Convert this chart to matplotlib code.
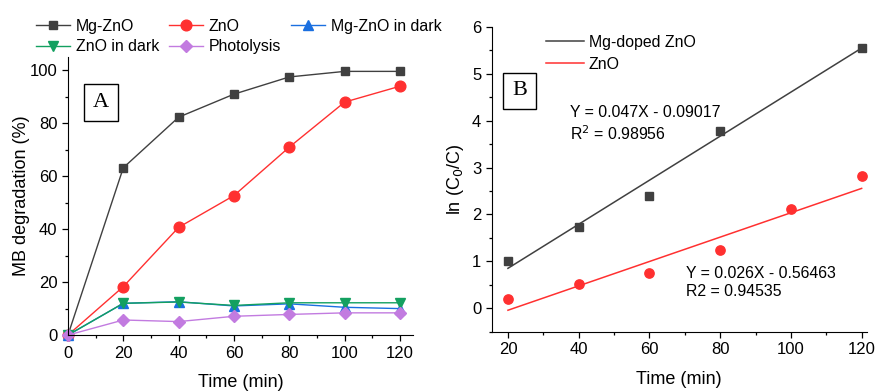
import numpy as np
import matplotlib.pyplot as plt
from matplotlib.ticker import MultipleLocator

plt.rcParams['font.family'] = ['Liberation Sans', 'DejaVu Sans']

# panel A: degradation (%)
time = [0, 20, 40, 60, 80, 100, 120]
mg_zno = [0, 63.2, 82.3, 91.0, 97.5, 99.6, 99.6]
zno = [0, 18.3, 40.7, 52.7, 71.0, 88.0, 94.0]
mg_zno_dark = [0, 12.0, 12.6, 11.0, 11.8, 10.5, 10.0]
zno_dark = [0, 12.0, 12.5, 11.2, 12.2, 12.2, 12.2]
photolysis = [0, 5.7, 5.1, 7.1, 7.8, 8.4, 8.4]

# panel B: ln(C0/C)
t_mg = [20, 40, 60, 80, 120]
ln_mg = [1.0, 1.73, 2.4, 3.77, 5.55]
t_zno = [20, 40, 60, 80, 100, 120]
ln_zno = [0.2, 0.52, 0.75, 1.24, 2.11, 2.83]
fit_mg = (0.047, -0.09017)
fit_zno = (0.026, -0.56463)

c_gray = '#404040'
c_red = '#ff3030'
c_blue = '#1a6fe0'
c_green = '#13a060'
c_purple = '#c27be0'

fig = plt.figure(figsize=(8.78, 3.91), dpi=100)
axA = fig.add_axes([0.0774, 0.143, 0.393, 0.711])
axB = fig.add_axes([0.560, 0.152, 0.427, 0.779])

for ax in (axA, axB):
    ax.spines['top'].set_visible(False)
    ax.spines['right'].set_visible(False)
    ax.tick_params(direction='out', labelsize=12, length=4, width=0.9)
    ax.tick_params(which='minor', direction='out', length=2.5, width=0.9)

kw = dict(lw=1, ms=7, clip_on=False)
hA = {}
hA['Mg-ZnO'], = axA.plot(time, mg_zno, '-s', color=c_gray, label='Mg-ZnO', ms=5.5, lw=1, clip_on=False)
hA['ZnO'], = axA.plot(time, zno, '-o', color=c_red, label='ZnO', lw=1, ms=7.7, clip_on=False)
hA['Mg-ZnO in dark'], = axA.plot(time, mg_zno_dark, '-^', color=c_blue, label='Mg-ZnO in dark', **kw)
hA['ZnO in dark'], = axA.plot(time, zno_dark, '-v', color=c_green, label='ZnO in dark', **kw)
hA['Photolysis'], = axA.plot(time, photolysis, '-D', color=c_purple, label='Photolysis', lw=1, ms=6, clip_on=False)
axA.set_xlim(0, 124.7)
axA.set_ylim(0, 105)
axA.xaxis.set_major_locator(MultipleLocator(20))
axA.xaxis.set_minor_locator(MultipleLocator(10))
axA.yaxis.set_major_locator(MultipleLocator(20))
axA.yaxis.set_minor_locator(MultipleLocator(10))
axA.set_xlabel('Time (min)', fontsize=13, labelpad=10)
axA.set_ylabel('MB degradation (%)', fontsize=13, labelpad=0)
# order so the column-wise fill reads row by row
order = ['Mg-ZnO', 'ZnO in dark', 'ZnO', 'Photolysis', 'Mg-ZnO in dark']
axA.legend([hA[k] for k in order], order, loc='lower left', bbox_to_anchor=(-0.093, 1.01),
           ncol=3, frameon=False, fontsize=11.4, handlelength=2.15, handletextpad=0.38,
           columnspacing=0.6, labelspacing=0.35, borderaxespad=0, borderpad=0)
axA.text(0.0957, 0.838, 'A', transform=axA.transAxes, fontsize=16, family='Liberation Serif',
         ha='center', va='center',
         bbox=dict(boxstyle='square,pad=0.4', fc='white', ec='black', lw=1))

xs = np.array([20, 120])
axB.plot(t_mg, ln_mg, 's', color=c_gray, ms=6, clip_on=False)
axB.plot(t_zno, ln_zno, 'o', color=c_red, ms=6.7, clip_on=False)
axB.plot(xs, fit_mg[0] * xs + fit_mg[1], '-', color=c_gray, lw=1.1, label='Mg-doped ZnO')
axB.plot(xs, fit_zno[0] * xs + fit_zno[1], '-', color=c_red, lw=1.1, label='ZnO')
axB.set_xlim(15.4, 121.4)
axB.set_ylim(-0.5, 6)
axB.xaxis.set_major_locator(MultipleLocator(20))
axB.xaxis.set_minor_locator(MultipleLocator(10))
axB.yaxis.set_major_locator(MultipleLocator(1))
axB.yaxis.set_minor_locator(MultipleLocator(0.5))
axB.set_xlabel('Time (min)', fontsize=13, labelpad=10)
axB.set_ylabel('ln (C$_0$/C)', fontsize=13)
axB.legend(loc='upper left', bbox_to_anchor=(0.145, 0.975), frameon=False, fontsize=11.4,
           handlelength=2.4, handletextpad=0.3, labelspacing=0.45, borderaxespad=0, borderpad=0)
axB.text(0.0747, 0.79, 'B', transform=axB.transAxes, fontsize=16, family='Liberation Serif',
         ha='center', va='center',
         bbox=dict(boxstyle='square,pad=0.4', fc='white', ec='black', lw=1))
axB.text(0.208, 0.681, 'Y = 0.047X - 0.09017\nR$^2$ = 0.98956', transform=axB.transAxes,
         fontsize=11.4, va='center', linespacing=1.25)
axB.text(0.517, 0.160, 'Y = 0.026X - 0.56463\nR2 = 0.94535', transform=axB.transAxes,
         fontsize=11.4, va='center', linespacing=1.25)

fig.savefig('out.png', dpi=100)
